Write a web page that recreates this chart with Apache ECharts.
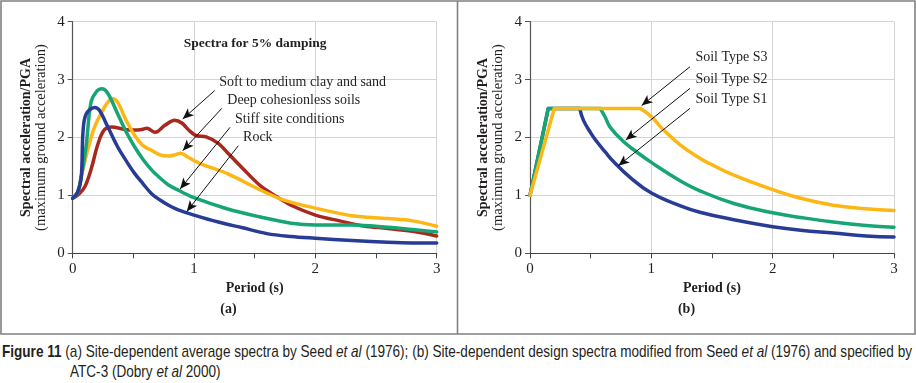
<!DOCTYPE html>
<html>
<head>
<meta charset="utf-8">
<script src="https://cdn.jsdelivr.net/npm/echarts@6/dist/echarts.min.js"></script>
<style>
body{margin:0;background:#fff;}
#chart{width:916px;height:340px;}
#caption{position:absolute;left:0;top:342px;width:916px;
  font-family:'Liberation Sans',Arial,sans-serif;font-size:17px;line-height:20px;color:#231f20;}
#caption .line{position:absolute;white-space:nowrap;transform-origin:0 50%;}
#caption b{font-weight:bold;}
</style>
</head>
<body>
<div id="chart"></div>
<div id="caption">
  <div class="line" id="cap1" style="left:2px;top:0px;"><b>Figure 11</b> (a) Site-dependent average spectra by Seed <i>et al</i> (1976); (b) Site-dependent design spectra modified from Seed <i>et al</i> (1976) and specified by</div>
  <div class="line" id="cap2" style="left:70px;top:20px;">ATC-3 (Dobry <i>et al</i> 2000)</div>
</div>
<script>
// (a) average spectra, period (s) and Sa/PGA
const softT  = [0,0.05,0.1,0.15,0.21,0.26,0.32,0.43,0.51,0.57,0.61,0.68,0.76,0.84,0.9,0.96,1.02,1.1,1.2,1.27,1.4,1.54,1.68,1.8,2.0,2.2,2.4,2.6,2.8,3.0];
const softSa = [0.95,1.02,1.15,1.44,1.9,2.13,2.18,2.14,2.13,2.14,2.16,2.09,2.21,2.3,2.25,2.12,2.03,2.01,1.9,1.75,1.47,1.18,0.98,0.83,0.66,0.56,0.47,0.43,0.38,0.3];
const deepT  = [0,0.04,0.07,0.13,0.18,0.24,0.29,0.33,0.37,0.44,0.51,0.58,0.65,0.72,0.79,0.84,0.89,0.95,1.05,1.27,1.54,1.7,1.82,2.0,2.3,2.6,2.8,3.0];
const deepSa = [0.95,1.05,1.32,1.84,2.18,2.44,2.61,2.67,2.61,2.3,2.04,1.86,1.78,1.7,1.68,1.7,1.73,1.66,1.55,1.38,1.1,0.95,0.87,0.78,0.65,0.6,0.56,0.47];
const stiffT  = [0,0.04,0.07,0.11,0.15,0.195,0.24,0.29,0.37,0.44,0.51,0.58,0.65,0.72,0.79,0.87,1.0,1.27,1.54,1.8,2.0,2.3,2.6,2.8,3.0];
const stiffSa = [0.95,1.05,1.32,1.84,2.6,2.79,2.84,2.76,2.41,2.1,1.84,1.62,1.44,1.3,1.18,1.09,0.96,0.77,0.63,0.52,0.49,0.49,0.45,0.41,0.37];
const rockT  = [0,0.04,0.07,0.085,0.11,0.18,0.22,0.29,0.37,0.44,0.51,0.58,0.65,0.72,0.79,0.87,1.0,1.2,1.4,1.6,1.8,2.0,2.3,2.6,2.8,3.0];
const rockSa = [0.95,1.05,1.3,2.1,2.4,2.52,2.47,2.18,1.84,1.6,1.38,1.2,1.03,0.92,0.83,0.75,0.66,0.54,0.44,0.34,0.29,0.26,0.22,0.19,0.18,0.18];

// (b) design spectra: straight ramp + plateau, then the decaying branch
const s1RampT = [0,0.15,0.41],  s1RampSa = [1.0,2.5,2.5];
const s1T  = [0.41,0.44,0.5,0.55,0.62,0.69,0.82,1.0,1.24,1.4,1.68,2.0,2.23,2.5,2.77,3.0];
const s1Sa = [2.5,2.3,2.08,1.93,1.75,1.58,1.32,1.04,0.82,0.71,0.58,0.46,0.4,0.35,0.3,0.28];
const s2RampT = [0,0.15,0.58],  s2RampSa = [1.0,2.5,2.5];
const s2T  = [0.58,0.62,0.66,0.77,0.88,1.0,1.24,1.4,1.68,2.0,2.23,2.5,2.77,3.0];
const s2Sa = [2.5,2.35,2.18,1.93,1.75,1.57,1.25,1.08,0.86,0.7,0.62,0.54,0.48,0.45];
const s3RampT = [0,0.2,0.91],   s3RampSa = [1.0,2.5,2.5];
const s3T  = [0.91,1.0,1.1,1.24,1.4,1.48,1.68,2.0,2.23,2.5,2.77,3.0];
const s3Sa = [2.5,2.36,2.13,1.87,1.64,1.55,1.35,1.1,0.95,0.83,0.77,0.74];

const xTicks = [0, 1, 2, 3];
const yTicks = [0, 1, 2, 3, 4];

// annotation arrows: [tail, head] in data units
const arrowsA = [[[1.17,2.81],[0.907,2.32]], [[1.229,2.504],[0.907,1.773]], [[1.297,2.176],[0.885,1.11]], [[1.365,1.858],[0.94,0.72]]];
const labelsA = [['Soft to medium clay and sand',1.208,2.958], ['Deep cohesionless soils',1.274,2.648], ['Stiff site conditions',1.338,2.32], ['Rock',1.404,2.008]];
const arrowsB = [[[1.319,3.223],[0.92,2.551]], [[1.319,2.849],[0.789,1.957]], [[1.319,2.504],[0.728,1.513]]];
const labelsB = [['Soil Type S3',1.363,3.385], ['Soil Type S2',1.363,3.01], ['Soil Type S1',1.363,2.66]];

const serif = 'Liberation Serif';
const ink = '#231f20';
const colors = {red:'#a8281e', yellow:'#fdb714', green:'#17a673', blue:'#283c96'};

const zip = (t, s) => t.map((v, i) => [v, s[i]]);

const xAxisFor = (g) => ({
  type:'value', gridIndex:g, min:xTicks[0], max:xTicks[xTicks.length-1], interval:1,
  name:'Period (s)', nameLocation:'middle', nameGap:27,
  nameTextStyle:{fontFamily:serif, fontWeight:'bold', fontSize:14, color:ink},
  axisLine:{lineStyle:{color:'#444', width:1.2}},
  axisTick:{show:true, length:5, lineStyle:{color:'#444'}},
  minorTick:{show:true, splitNumber:2, length:5, lineStyle:{color:'#444'}},
  splitLine:{show:true, lineStyle:{color:'#d4d4d4'}},
  axisLabel:{fontFamily:serif, fontSize:15, color:ink, margin:8}
});
const yAxisFor = (g) => ({
  type:'value', gridIndex:g, min:yTicks[0], max:yTicks[yTicks.length-1], interval:1,
  name:'{b|Spectral acceleration/PGA}\n{n|(maximum ground acceleration)}',
  nameLocation:'middle', nameGap:24, nameRotate:90,
  nameTextStyle:{fontFamily:serif, color:ink, rich:{
    b:{fontFamily:serif, fontWeight:'bold', fontSize:14, lineHeight:15, color:ink},
    n:{fontFamily:serif, fontSize:14.5, lineHeight:15, color:ink}}},
  axisLine:{show:true, lineStyle:{color:'#555', width:1.2}},
  axisTick:{show:true, length:5, lineStyle:{color:'#555'}},
  splitLine:{show:true, lineStyle:{color:'#d4d4d4'}},
  axisLabel:{fontFamily:serif, fontSize:15, color:ink, margin:8}
});

const curve = (name, g, data, color, extra) => Object.assign({
  name, type:'line', xAxisIndex:g, yAxisIndex:g, data, showSymbol:false, symbol:'none',
  smooth:0.35, lineStyle:{color, width:3.5, cap:'round', join:'round'}, itemStyle:{color}, z:2, animation:false
}, extra || {});

const arrowMarks = (arrows) => ({
  silent:true, symbol:['none','arrow'], symbolSize:[7,11], animation:false,
  lineStyle:{color:'#111', width:1, type:'solid'}, label:{show:false},
  data: arrows.map(a => [{coord:a[0]}, {coord:a[1]}])
});
const labelMarks = (labels, extra) => ({
  silent:true, symbol:'circle', symbolSize:0, animation:false,
  label:{show:true, position:'right', distance:0, formatter:'{b}', fontFamily:serif, fontSize:14, color:ink},
  data: labels.map(l => ({name:l[0], coord:[l[1], l[2]]})).concat(extra || [])
});

const chart = echarts.init(document.getElementById('chart'));
chart.setOption({
  animation:false,
  grid:[
    {left:72.7, top:21.7, width:364, height:231.6},
    {left:530, top:21.7, width:364, height:231.6}
  ],
  xAxis:[xAxisFor(0), xAxisFor(1)],
  yAxis:[yAxisFor(0), yAxisFor(1)],
  series:[
    curve('Soft to medium clay and sand', 0, zip(softT, softSa), colors.red),
    curve('Deep cohesionless soils', 0, zip(deepT, deepSa), colors.yellow),
    curve('Stiff site conditions', 0, zip(stiffT, stiffSa), colors.green),
    curve('Rock', 0, zip(rockT, rockSa), colors.blue, {
      markLine: arrowMarks(arrowsA),
      markPoint: labelMarks(labelsA, [{name:'Spectra for 5% damping', coord:[1.504,3.615],
        label:{position:'inside', fontWeight:'bold', fontSize:13.5}}])
    }),
    curve('Soil Type S1 ramp', 1, zip(s1RampT, s1RampSa), colors.blue, {smooth:false}),
    curve('Soil Type S1', 1, zip(s1T, s1Sa), colors.blue, {smooth:0.45}),
    curve('Soil Type S2 ramp', 1, zip(s2RampT, s2RampSa), colors.green, {smooth:false}),
    curve('Soil Type S2', 1, zip(s2T, s2Sa), colors.green, {smooth:0.45}),
    curve('Soil Type S3 ramp', 1, zip(s3RampT, s3RampSa), colors.yellow, {smooth:false}),
    curve('Soil Type S3', 1, zip(s3T, s3Sa), colors.yellow, {smooth:0.45,
      markLine: arrowMarks(arrowsB),
      markPoint: labelMarks(labelsB)
    })
  ],
  graphic:[
    {type:'rect', shape:{x:1, y:1, width:914, height:333}, style:{fill:null, stroke:'#808080', lineWidth:1.6}, silent:true},
    {type:'line', shape:{x1:457.5, y1:1, x2:457.5, y2:334}, style:{stroke:'#808080', lineWidth:1.6}, silent:true},
    {type:'text', x:228.5, y:309, style:{text:'(a)', font:'bold 14px ' + serif, fill:ink, textAlign:'center', textVerticalAlign:'middle'}},
    {type:'text', x:686.5, y:309, style:{text:'(b)', font:'bold 14px ' + serif, fill:ink, textAlign:'center', textVerticalAlign:'middle'}}
  ]
});

// squeeze the caption to the condensed width of the original
const cap1 = document.getElementById('cap1');
const cap2 = document.getElementById('cap2');
const sx = 910 / cap1.getBoundingClientRect().width;
cap1.style.transform = 'scaleX(' + sx + ')';
cap2.style.transform = 'scaleX(' + sx + ')';
</script>
</body>
</html>
